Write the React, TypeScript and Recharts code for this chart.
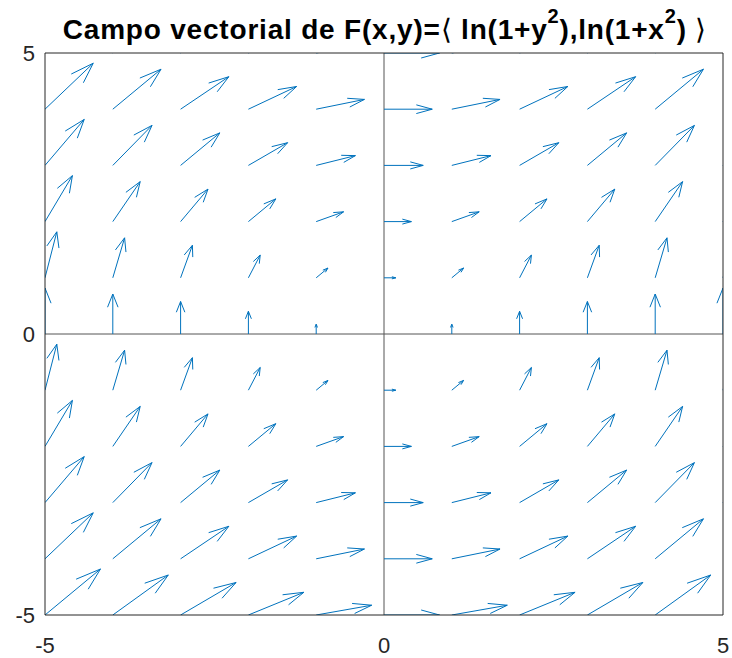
import React from 'react';
import { ComposedChart, Scatter, XAxis, YAxis, ReferenceLine } from 'recharts';

// Grid of sample points
const xValues = [-5, -4, -3, -2, -1, 0, 1, 2, 3, 4, 5];
const yValues = [-5, -4, -3, -2, -1, 0, 1, 2, 3, 4, 5];
// Horizontal component P = ln(1+y^2), one value per row (y)
const pByRow = [3.258, 2.833, 2.303, 1.609, 0.693, 0, 0.693, 1.609, 2.303, 2.833, 3.258];
// Vertical component Q = ln(1+x^2), one value per column (x)
const qByCol = [3.258, 2.833, 2.303, 1.609, 0.693, 0, 0.693, 1.609, 2.303, 2.833, 3.258];
const xTicks = [-5, 0, 5];
const yTicks = [-5, 0, 5];

const WIDTH = 732;
const HEIGHT = 658;
const ARROW_COLOR = '#0072BD';
const FONT = '"Liberation Sans", Arial, Helvetica, sans-serif';

type Seg = { key: string; x1: number; y1: number; x2: number; y2: number };

// quiver-style autoscale: longest arrow spans 0.9 of the mean grid spacing
function buildArrows(): Seg[] {
  const n = xValues.length;
  const m = yValues.length;
  const delx = (Math.max(...xValues) - Math.min(...xValues)) / n;
  const dely = (Math.max(...yValues) - Math.min(...yValues)) / m;
  const del = delx * delx + dely * dely;
  let maxLen = 0;
  yValues.forEach((_, i) =>
    xValues.forEach((__, j) => {
      const len = Math.sqrt((pByRow[i] ** 2 + qByCol[j] ** 2) / del);
      if (len > maxLen) maxLen = len;
    })
  );
  const scale = 0.9 / maxLen;
  const alpha = 0.33;
  const beta = 0.33;
  const segs: Seg[] = [];
  yValues.forEach((y, i) =>
    xValues.forEach((x, j) => {
      const u = pByRow[i] * scale;
      const v = qByCol[j] * scale;
      if (u === 0 && v === 0) return;
      const tx = x + u;
      const ty = y + v;
      const k = `${i}-${j}`;
      segs.push({ key: `s${k}`, x1: x, y1: y, x2: tx, y2: ty });
      segs.push({
        key: `a${k}`,
        x1: tx - alpha * (u + beta * v),
        y1: ty - alpha * (v - beta * u),
        x2: tx,
        y2: ty,
      });
      segs.push({
        key: `b${k}`,
        x1: tx - alpha * (u - beta * v),
        y1: ty - alpha * (v + beta * u),
        x2: tx,
        y2: ty,
      });
    })
  );
  return segs;
}

const arrows = buildArrows();
const tails = yValues.flatMap((y) => xValues.map((x) => ({ x, y })));

const supStyle: React.CSSProperties = { fontSize: 20, position: 'relative', top: -16 };

export default function App() {
  return (
    <div style={{ position: 'absolute', left: 0, top: 0, width: WIDTH, height: HEIGHT, background: '#fff' }}>
      <div
        style={{
          position: 'absolute',
          left: 0,
          top: 14,
          width: WIDTH,
          paddingLeft: 38,
          boxSizing: 'border-box',
          textAlign: 'center',
          fontFamily: FONT,
          fontWeight: 'bold',
          fontSize: 28,
          letterSpacing: 0.8,
          color: '#000',
          lineHeight: '32px',
          whiteSpace: 'nowrap',
        }}
      >
        Campo vectorial de F(x,y)=
        <span style={{ fontWeight: 'normal' }}>⟨</span> ln(1+y<span style={supStyle}>2</span>),ln(1+x
        <span style={supStyle}>2</span>) <span style={{ fontWeight: 'normal' }}>⟩</span>
      </div>
      <ComposedChart width={WIDTH} height={HEIGHT} margin={{ top: 53, right: 9, bottom: 0, left: 0 }}>
        <XAxis
          dataKey="x"
          type="number"
          domain={[-5, 5]}
          ticks={xTicks}
          interval={0}
          allowDataOverflow
          axisLine={false}
          tickLine={false}
          tickSize={6}
          tickMargin={16}
          height={43}
          tick={{ fontSize: 22, fill: '#262626', fontFamily: FONT }}
        />
        <YAxis
          dataKey="y"
          type="number"
          domain={[-5, 5]}
          ticks={yTicks}
          interval={0}
          allowDataOverflow
          axisLine={false}
          tickLine={false}
          tickSize={6}
          tickMargin={4}
          width={45}
          tick={{ fontSize: 22, fill: '#262626', fontFamily: FONT }}
        />
        <Scatter data={tails} dataKey="y" shape={() => <g />} isAnimationActive={false} />
        <ReferenceLine x={0} stroke="#555" strokeWidth={1} />
        <ReferenceLine y={0} stroke="#555" strokeWidth={1} />
        {arrows.map((s) => (
          <ReferenceLine
            key={s.key}
            segment={[
              { x: s.x1, y: s.y1 },
              { x: s.x2, y: s.y2 },
            ]}
            stroke={ARROW_COLOR}
            strokeWidth={1}
            ifOverflow="hidden"
          />
        ))}
        <ReferenceLine x={-5} stroke="#262626" strokeWidth={1} ifOverflow="visible" />
        <ReferenceLine x={5} stroke="#262626" strokeWidth={1} ifOverflow="visible" />
        <ReferenceLine y={-5} stroke="#262626" strokeWidth={1} ifOverflow="visible" />
        <ReferenceLine y={5} stroke="#262626" strokeWidth={1} ifOverflow="visible" />
      </ComposedChart>
    </div>
  );
}
